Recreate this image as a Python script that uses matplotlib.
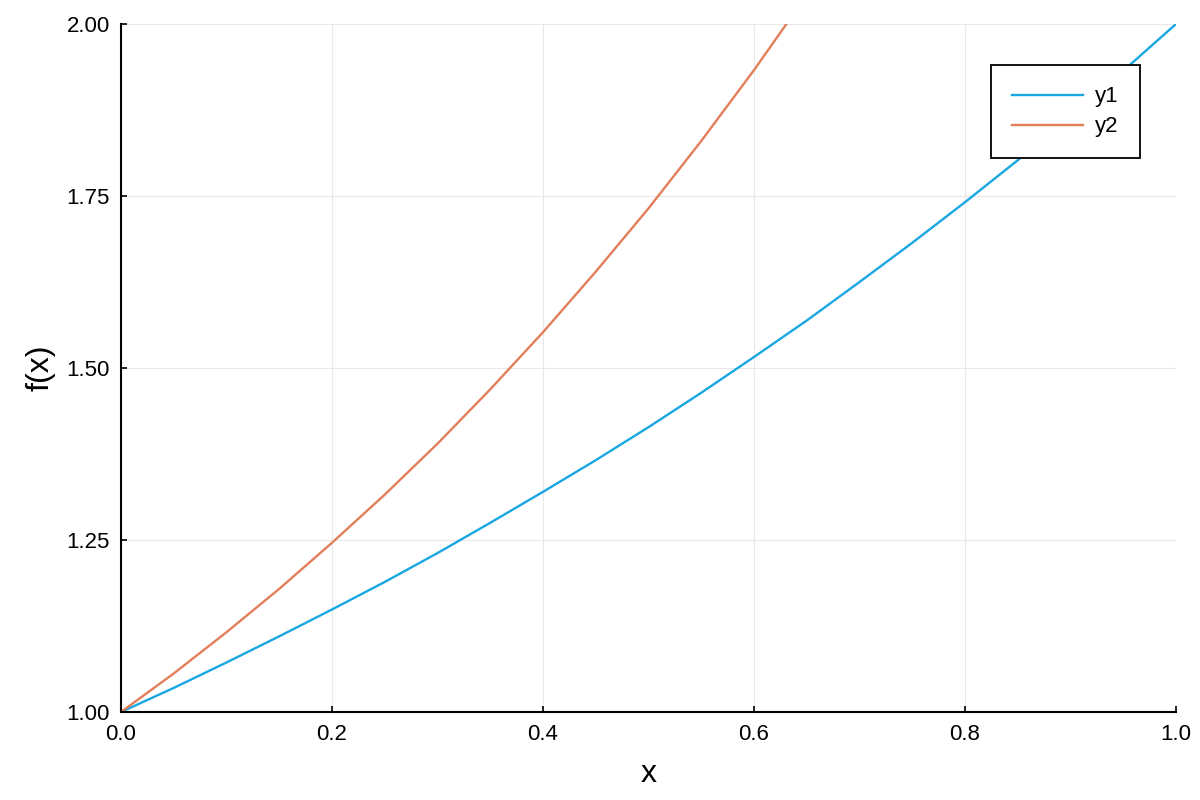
import matplotlib.pyplot as plt

# values
x1 = [0.0, 0.05, 0.1, 0.15, 0.2, 0.25, 0.3, 0.35, 0.4, 0.45, 0.5,
      0.55, 0.6, 0.65, 0.7, 0.75, 0.8, 0.85, 0.9, 0.95, 1.0]
y1 = [1.000, 1.035, 1.072, 1.110, 1.149, 1.189, 1.231, 1.275, 1.320, 1.366, 1.414,
      1.464, 1.516, 1.569, 1.625, 1.682, 1.741, 1.802, 1.866, 1.932, 2.000]
x2 = [0.0, 0.05, 0.1, 0.15, 0.2, 0.25, 0.3, 0.35, 0.4, 0.45, 0.5,
      0.55, 0.6, 0.65]
y2 = [1.000, 1.056, 1.116, 1.179, 1.246, 1.316, 1.390, 1.469, 1.552, 1.640, 1.732,
      1.830, 1.933, 2.042]

xticks = [0.0, 0.2, 0.4, 0.6, 0.8, 1.0]
yticks = [1.00, 1.25, 1.50, 1.75, 2.00]

plt.rcParams['font.family'] = ['Liberation Sans', 'DejaVu Sans']

fig = plt.figure(figsize=(12, 8), dpi=100)
ax = fig.add_axes([121 / 1200, 1 - 712 / 800, (1176 - 121) / 1200, (712 - 24) / 800])

ax.plot(x1, y1, color='#19A7E2', lw=1.7, label='y1')
ax.plot(x2, y2, color='#E27F5A', lw=1.7, label='y2')

ax.set_xlim(0, 1)
ax.set_ylim(1, 2)
ax.set_xticks(xticks)
ax.set_xticklabels([f'{t:.1f}' for t in xticks])
ax.set_yticks(yticks)
ax.set_yticklabels([f'{t:.2f}' for t in yticks])
ax.tick_params(direction='in', length=4, width=1.2, labelsize=16, colors='black')
ax.tick_params(axis='x', pad=9)
ax.tick_params(axis='y', pad=8)

ax.spines['top'].set_visible(False)
ax.spines['right'].set_visible(False)
ax.spines['left'].set_linewidth(1.5)
ax.spines['bottom'].set_linewidth(1.5)

ax.grid(True, color='#e8e8e8', lw=0.8)
ax.set_axisbelow(True)

ax.set_xlabel('x', fontsize=23, labelpad=10)
ax.set_ylabel('f(x)', fontsize=23, labelpad=8)

leg = ax.legend(loc='upper right', bbox_to_anchor=(0.966, 0.94), fontsize=16,
                fancybox=False, frameon=True, framealpha=1, handlelength=3.2,
                handletextpad=0.55, borderpad=0.95, labelspacing=0.4,
                borderaxespad=0)
leg.get_frame().set_edgecolor('black')
leg.get_frame().set_linewidth(1.3)

plt.savefig('out.png', dpi=100)
